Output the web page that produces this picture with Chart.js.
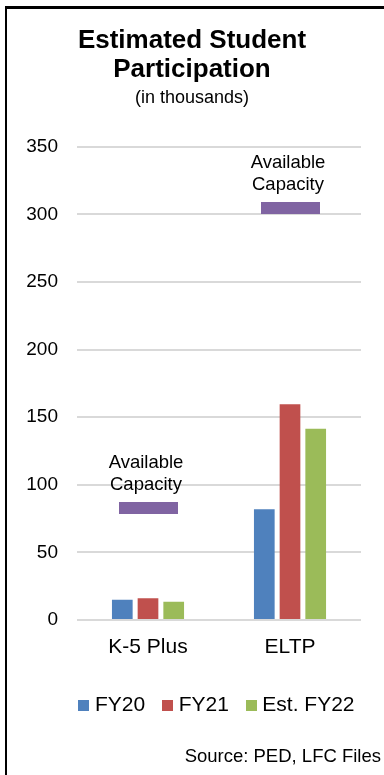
<!DOCTYPE html>
<html>
<head>
<meta charset="utf-8">
<script src="https://cdn.jsdelivr.net/npm/chart.js@4/dist/chart.umd.min.js"></script>
<style>
  html, body { margin: 0; padding: 0; background: #fff; overflow: hidden; }
  #wrap { position: relative; width: 384px; height: 775px; }
  #frame {
    position: absolute; left: 5px; top: 6px; width: 500px; height: 900px;
    border-left: 2px solid #000; border-top: 3px solid #000;
    pointer-events: none;
  }
  canvas { display: block; }
</style>
</head>
<body>
<div id="wrap">
  <canvas id="chart" width="384" height="775"></canvas>
  <div id="frame"></div>
</div>
<script>
// Student participation, in thousands
const categories = ['K-5 Plus', 'ELTP'];
const seriesNames = ['FY20', 'FY21', 'Est. FY22'];
const fy20 = [15, 82];
const fy21 = [16, 159.5];
const estFy22 = [13.5, 141.5];
const availableCapacity = [83, 305];
const yMin = 0, yMax = 350, yStep = 50;

const FONT = '"Liberation Sans", Arial, Helvetica, sans-serif';
const COLORS = ['#4F81BD', '#C0504D', '#9BBB59'];
const CAPACITY_COLOR = '#8064A2';

// solid rectangle used as a point marker image
function block(color, w, h) {
  const c = document.createElement('canvas');
  c.width = w; c.height = h;
  const g = c.getContext('2d');
  g.fillStyle = color;
  g.fillRect(0, 0, w, h);
  return c;
}

// "Available Capacity" caption above each capacity marker
const capacityLabels = {
  id: 'capacityLabels',
  afterDatasetsDraw(chart) {
    const meta = chart.getDatasetMeta(3);
    const ctx = chart.ctx;
    ctx.save();
    ctx.font = '18.5px ' + FONT;
    ctx.fillStyle = '#000';
    ctx.textAlign = 'center';
    ctx.textBaseline = 'middle';
    meta.data.forEach(pt => {
      ctx.fillText('Available', pt.x - 2, pt.y - 45);
      ctx.fillText('Capacity', pt.x - 2, pt.y - 23);
    });
    ctx.restore();
  }
};

// source note in the bottom-right corner
const sourceNote = {
  id: 'sourceNote',
  afterDraw(chart) {
    const ctx = chart.ctx;
    ctx.save();
    ctx.font = '18.5px ' + FONT;
    ctx.fillStyle = '#000';
    ctx.textAlign = 'right';
    ctx.textBaseline = 'middle';
    ctx.fillText('Source: PED, LFC Files', chart.width - 3, chart.height - 18);
    ctx.restore();
  }
};

// centre the legend under the plot area, and the titles on the canvas
const placeBlocks = {
  id: 'placeBlocks',
  afterLayout(chart) {
    const area = chart.chartArea;
    chart.boxes.forEach(box => {
      let target = null;
      if (box === chart.legend) target = (area.left + area.right) / 2;
      else if (box.options && box.options.position === 'top' && box.options.text !== undefined) target = chart.width / 2;
      if (target === null) return;
      const shift = target - (box.left + box.right) / 2;
      box.left += shift;
      box.right += shift;
    });
  }
};

const barSets = [fy20, fy21, estFy22].map((values, i) => ({
  type: 'bar',
  label: seriesNames[i],
  data: values,
  backgroundColor: COLORS[i],
  borderWidth: 0,
  categoryPercentage: 0.543,
  barPercentage: 0.805,
  order: 2
}));

new Chart(document.getElementById('chart'), {
  type: 'bar',
  data: {
    labels: categories,
    datasets: [
      ...barSets,
      {
        type: 'line',
        label: 'Available Capacity',
        data: availableCapacity,
        showLine: false,
        pointStyle: block(CAPACITY_COLOR, 59, 12),
        pointRadius: 1,
        pointHoverRadius: 1,
        pointBorderWidth: 0,
        borderColor: CAPACITY_COLOR,
        backgroundColor: CAPACITY_COLOR,
        order: 1
      }
    ]
  },
  options: {
    responsive: false,
    animation: false,
    events: [],
    layout: { padding: { left: 7.3, right: 23, top: 0, bottom: 49.5 } },
    scales: {
      x: {
        grid: { display: false, drawTicks: false },
        border: { display: false },
        ticks: { color: '#000', font: { family: FONT, size: 21 }, padding: 15 },
        afterFit(scale) { scale.height = 52.5; }
      },
      y: {
        min: yMin,
        max: yMax,
        grid: { color: '#d9d9d9', lineWidth: 2, drawTicks: false },
        border: { display: false },
        ticks: { stepSize: yStep, color: '#000', font: { family: FONT, size: 19 }, padding: 19 }
      }
    },
    plugins: {
      title: {
        display: true,
        text: ['Estimated Student', 'Participation'],
        color: '#000',
        font: { family: FONT, size: 26, weight: 'bold', lineHeight: 1.1 },
        padding: { top: 27, bottom: 0 }
      },
      subtitle: {
        display: true,
        text: '(in thousands)',
        color: '#000',
        font: { family: FONT, size: 18 },
        padding: { top: 3, bottom: 38 }
      },
      legend: {
        position: 'bottom',
        labels: {
          color: '#000',
          font: { family: FONT, size: 21 },
          usePointStyle: true,
          boxWidth: 1,
          boxHeight: 11,
          padding: 22,
          generateLabels(chart) {
            return seriesNames.map((name, i) => ({
              text: name,
              datasetIndex: i,
              pointStyle: block(COLORS[i], 11, 11),
              fillStyle: COLORS[i],
              strokeStyle: COLORS[i],
              lineWidth: 0,
              hidden: false,
              fontColor: '#000'
            }));
          }
        }
      },
      tooltip: { enabled: false }
    }
  },
  plugins: [capacityLabels, sourceNote, placeBlocks]
});
</script>
</body>
</html>
